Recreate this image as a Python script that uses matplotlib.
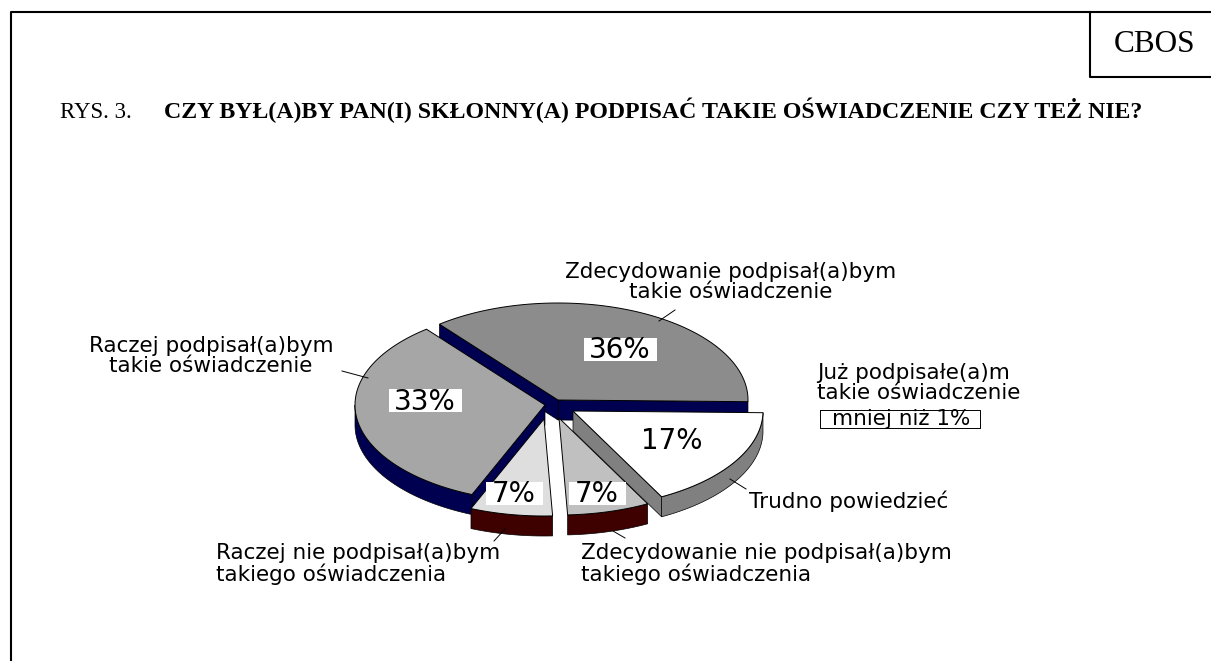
import matplotlib
matplotlib.use("Agg")
import matplotlib.pyplot as plt
from matplotlib.patches import Rectangle
import numpy as np

categories = [
    "Zdecydowanie podpisał(a)bym\ntakie oświadczenie",
    "Raczej podpisał(a)bym\ntakie oświadczenie",
    "Raczej nie podpisał(a)bym\ntakiego oświadczenia",
    "Zdecydowanie nie podpisał(a)bym\ntakiego oświadczenia",
    "Trudno powiedzieć",
]
values = [36, 33, 7, 7, 17]
small_category = "Już podpisałe(a)m\ntakie oświadczenie"
small_label = "mniej niż 1%"

top_colours = ["#8c8c8c", "#a6a6a6", "#dedede", "#c0c0c0", "#ffffff"]
side_colours = ["#000050", "#000050", "#3f0000", "#3f0000", "#808080"]
# apex of every slice in pixels, the pie is exploded
apexes = [(558, 400), (545, 405), (544, 419), (559, 418), (573, 411)]
value_pos = [(620, 349.5), (425, 400.5), (514, 493.5), (597, 493.5), (672, 440)]
box_widths = [73, 73, 57, 57, 73]
label_pos = [(731, 282, "center"), (211, 356, "center"), (216, 564, "left"),
             (581, 564, "left"), (749, 501, "left")]
leaders = [((675, 310), (659, 321)), ((342, 371), (368, 378)), ((505, 529), (494, 541)),
           ((613, 531), (625, 538)), ((730, 479), (746, 489))]

RX, RY, DEPTH = 190, 97, 20
START = -1.0
SANS = "DejaVu Sans"
SERIF = "Liberation Serif"
LABEL_SIZE = 15.5


def arc(apex, a0, a1):
    t = np.radians(np.linspace(a0, a1, 80))
    return np.column_stack([apex[0] + RX * np.cos(t), apex[1] - RY * np.sin(t)])


def draw_slice(ax, apex, a0, a1, top, side):
    pts = arc(apex, a0, a1)
    down = np.array([0, DEPTH])
    # cut faces, only those turned to the viewer
    ends = []
    if np.cos(np.radians(a0)) > 0.1:
        ends.append(pts[0])
    if np.cos(np.radians(a1)) < -0.1:
        ends.append(pts[-1])
    for end in ends:
        face = np.array([apex, end, end + down, np.array(apex) + down])
        ax.fill(face[:, 0], face[:, 1], fc=side, ec="black", lw=0.5)
    # outer wall
    lo, hi = max(a0, 180), min(a1, 360)
    if hi > lo:
        wall = arc(apex, lo, hi)
        wall = np.vstack([wall, wall[::-1] + down])
        ax.fill(wall[:, 0], wall[:, 1], fc=side, ec="black", lw=0.5)
    outline = np.vstack([apex, pts])
    ax.fill(outline[:, 0], outline[:, 1], fc=top, ec="black", lw=0.7)


fig = plt.figure(figsize=(12.11, 6.61), dpi=100)
ax = fig.add_axes([0, 0, 1, 1])
ax.set_xlim(0, 1211)
ax.set_ylim(661, 0)
ax.axis("off")

# page frame
ax.plot([11, 11, 1211], [661, 12, 12], color="black", lw=1.5)
ax.plot([1090, 1090, 1211], [12, 77, 77], color="black", lw=1.5)
ax.text(1155, 44, "CBOS", family=SERIF, fontsize=22.5, ha="center", va="center")

ax.text(60, 118, "RYS. 3.", family=SERIF, fontsize=16.5, va="baseline")
ax.text(164, 118, "CZY BYŁ(A)BY PAN(I) SKŁONNY(A) PODPISAĆ TAKIE OŚWIADCZENIE CZY TEŻ NIE?",
        family=SERIF, fontsize=17.2, fontweight="bold", va="baseline")

edges = START + np.cumsum([0] + values) * 3.6
for i in range(len(values)):
    draw_slice(ax, apexes[i], edges[i], edges[i + 1], top_colours[i], side_colours[i])

for i, v in enumerate(values):
    cx, cy = value_pos[i]
    ax.add_patch(Rectangle((cx - box_widths[i] / 2, cy - 11.5), box_widths[i], 23, fc="white", ec="none"))
    ax.text(cx, cy - 2, f"{v}%", family=SANS, fontsize=20, ha="center", va="center_baseline")
    x, y, align = label_pos[i]
    ax.text(x, y, categories[i], family=SANS, fontsize=LABEL_SIZE, ha=align, va="center",
            multialignment=align, linespacing=1.0)
    p, q = leaders[i]
    ax.plot([p[0], q[0]], [p[1], q[1]], color="black", lw=0.7)

ax.text(817, 383, small_category, family=SANS, fontsize=LABEL_SIZE, ha="left", va="center", linespacing=1.0)
ax.text(901, 419, small_label, family=SANS, fontsize=LABEL_SIZE, ha="center", va="center")
ax.plot([820, 980, 980, 820, 820], [410, 410, 428, 428, 410], color="black", lw=0.7)

fig.savefig("out.png", dpi=100)
